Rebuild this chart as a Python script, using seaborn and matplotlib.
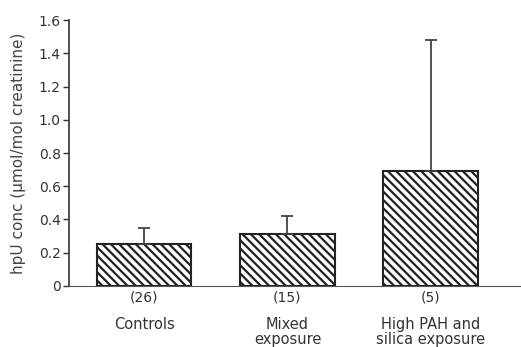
import pandas as pd
import seaborn as sns
import matplotlib.pyplot as plt

groups = ["Controls", "Mixed\nexposure", "High PAH and\nsilica exposure"]
counts = ["(26)", "(15)", "(5)"]
means = [0.25, 0.31, 0.69]
upper_err = [0.10, 0.11, 0.79]

df = pd.DataFrame({"group": groups, "hpU": means})

sns.set_style("ticks")
plt.rcParams["font.family"] = ["DejaVu Sans"]
plt.rcParams["hatch.linewidth"] = 1.6
plt.rcParams["hatch.color"] = "#2a2a2a"

fig = plt.figure(figsize=(5.21, 3.47), dpi=100)
ax = fig.add_axes([0.1324, 0.176, 0.8676, 0.766])

sns.barplot(data=df, x="group", y="hpU", color="white", edgecolor="#222222",
            linewidth=1.5, width=0.66, errorbar=None, ax=ax)
for p in ax.patches:
    p.set_hatch("\\\\\\\\")

ax.errorbar(range(len(means)), means, yerr=[[0] * len(means), upper_err],
            fmt="none", ecolor="#444444", elinewidth=1.3, capsize=4, capthick=1.3)

ax.set_ylim(0, 1.6)
ax.set_xlim(-0.525, 2.63)
ax.set_yticks([0, 0.2, 0.4, 0.6, 0.8, 1.0, 1.2, 1.4, 1.6])
ax.set_yticklabels(["0", "0.2", "0.4", "0.6", "0.8", "1.0", "1.2", "1.4", "1.6"])
ax.set_xticks(range(len(counts)))
ax.set_xticklabels(counts)
ax.tick_params(axis="x", length=0, pad=3, labelsize=10, colors="#333333")
ax.tick_params(axis="y", length=4, width=1, labelsize=10, colors="#333333", pad=2)
for i, name in enumerate(groups):
    ax.text(i, -0.19, name, ha="center", va="top", fontsize=10.5,
            color="#333333", linespacing=1.0)

ax.set_xlabel("")
ax.set_ylabel("hpU conc (\u00b5mol/mol creatinine)", fontsize=11, color="#444444", labelpad=9)
sns.despine(ax=ax, top=True, right=True)
ax.spines["left"].set_color("#333333")
ax.spines["bottom"].set_color("#555555")
ax.spines["left"].set_linewidth(1.2)

fig.savefig("out.png", dpi=100)
